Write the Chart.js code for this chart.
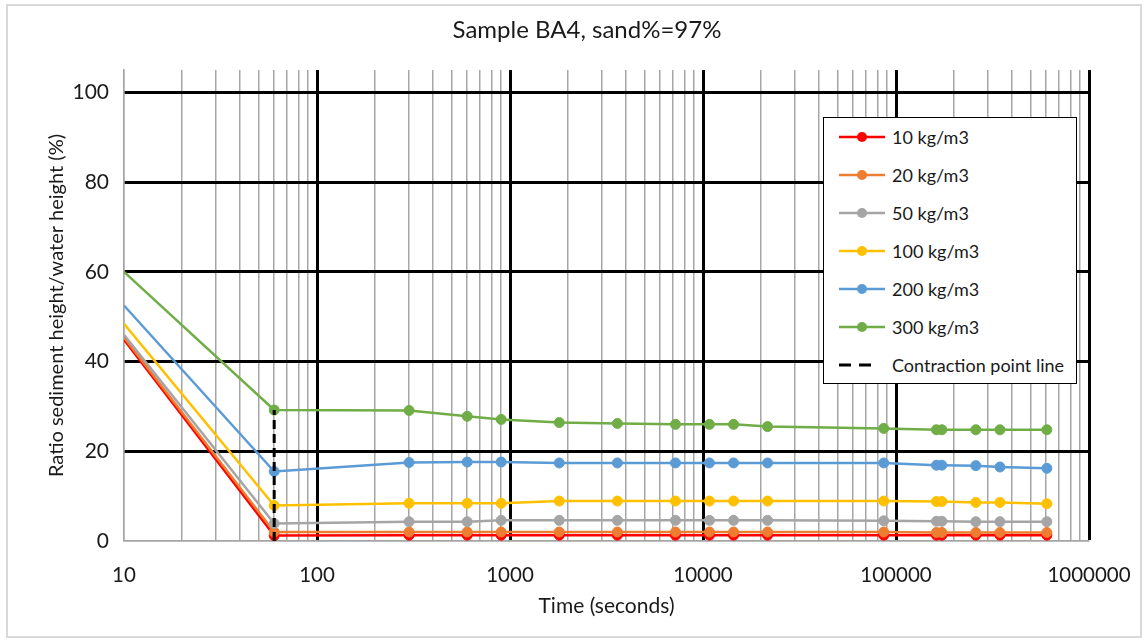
<!DOCTYPE html>
<html>
<head>
<meta charset="utf-8">
<script src="https://cdn.jsdelivr.net/npm/chart.js@4"></script>
<style>
  html, body { margin: 0; padding: 0; background: #fff; }
  #wrap { position: relative; width: 1147px; height: 641px; }
  #frame { position: absolute; left: 6px; top: 4px; width: 1136px; height: 634px; border: 2px solid #d9d9d9; box-sizing: border-box; pointer-events: none; }
  #legend { position: absolute; left: 823px; top: 117px; width: 254px; height: 267px; border: 1px solid #000; background: #fff; box-sizing: border-box; font-family: Lato, sans-serif; font-size: 18px; color: #1a1a1a; }
  .row { height: 38px; display: flex; align-items: center; }
  .row svg { margin-left: 15px; margin-right: 7px; }
</style>
</head>
<body>
<div id="wrap">
  <canvas id="chart" width="1147" height="641"></canvas>
  <div id="frame"></div>
  <div id="legend"></div>
</div>
<script>
// time (s) of every reading
const times = [10, 60, 300, 600, 900, 1800, 3600, 7200, 10800, 14400, 21600, 86400, 162000, 172800, 259200, 345600, 604800]

// ratio sediment height / water height (%)
const c10 = [44.9, 1.2, 1.3, 1.3, 1.3, 1.3, 1.3, 1.3, 1.3, 1.3, 1.3, 1.3, 1.3, 1.3, 1.3, 1.3, 1.3]
const c20 = [45.4, 2.0, 2.0, 2.0, 2.0, 2.0, 2.0, 2.0, 2.0, 2.0, 2.0, 2.0, 1.9, 1.9, 1.9, 1.9, 1.9]
const c50 = [46.0, 3.9, 4.3, 4.3, 4.6, 4.6, 4.6, 4.6, 4.6, 4.6, 4.6, 4.5, 4.4, 4.4, 4.3, 4.3, 4.3]
const c100 = [48.4, 7.9, 8.4, 8.4, 8.4, 8.9, 8.9, 8.9, 8.9, 8.9, 8.9, 8.9, 8.8, 8.8, 8.6, 8.6, 8.3]
const c200 = [52.5, 15.5, 17.5, 17.6, 17.6, 17.4, 17.4, 17.4, 17.4, 17.4, 17.4, 17.4, 16.9, 16.9, 16.8, 16.5, 16.2]
const c300 = [60.0, 29.2, 29.1, 27.8, 27.1, 26.4, 26.2, 26.0, 26.0, 26.0, 25.5, 25.1, 24.8, 24.8, 24.8, 24.8, 24.8]

const contractionTime = [60, 60]
const contractionRatio = [0, 29.2]

const seriesLabels = ["10 kg/m3", "20 kg/m3", "50 kg/m3", "100 kg/m3", "200 kg/m3", "300 kg/m3"]
const seriesColors = ["#FF0000", "#ED7D31", "#A5A5A5", "#FFC000", "#5B9BD5", "#70AD47"]
const seriesValues = [c10, c20, c50, c100, c200, c300]

const xTickLabels = [10, 100, 1000, 10000, 100000, 1000000]
const yTicks = [0, 20, 40, 60, 80, 100]

const textColor = "#1a1a1a"
const minorGrey = "#a6a6a6"

Chart.defaults.font.family = "Lato"
Chart.defaults.color = textColor

function toPoints(xs, ys) {
    return xs.map((x, i) => ({ x: x, y: ys[i] }))
}

let datasets = seriesValues.map((vals, k) => ({
    label: seriesLabels[k],
    data: toPoints(times, vals),
    borderColor: seriesColors[k],
    backgroundColor: seriesColors[k],
    borderWidth: 2.5,
    pointRadius: times.map((t, i) => i === 0 ? 0 : 5),
    pointBorderWidth: 1,
    tension: 0,
    order: 6 - k
}))

datasets.push({
    label: "Contraction point line",
    data: toPoints(contractionTime, contractionRatio),
    borderColor: "#000",
    backgroundColor: "#000",
    borderWidth: 3,
    borderDash: [9, 5],
    pointRadius: 0,
    order: 0
})

let chart = new Chart(document.getElementById("chart"), {
    type: "line",
    data: { datasets: datasets },
    options: {
        responsive: false,
        animation: false,
        // left padding pushes the title to where the reference has it
        layout: { padding: { left: 27, right: 0, top: 0, bottom: 0 } },
        plugins: {
            legend: { display: false },
            tooltip: { enabled: false },
            title: {
                display: true,
                text: "Sample BA4, sand%=97%",
                color: textColor,
                font: { size: 24, weight: "normal" },
                padding: { top: 15.6, bottom: 25.6 }
            }
        },
        scales: {
            x: {
                type: "logarithmic",
                min: 10,
                max: 1000000,
                afterBuildTicks: scale => {
                    let ticks = []
                    for (let d = 0; d < xTickLabels.length - 1; d++) {
                        for (let m = 1; m < 10; m++) ticks.push({ value: m * xTickLabels[d] })
                    }
                    ticks.push({ value: xTickLabels[xTickLabels.length - 1] })
                    scale.ticks = ticks
                },
                afterFit: scale => {
                    scale.height = 100
                    scale.paddingRight = 58
                },
                ticks: {
                    autoSkip: false,
                    maxRotation: 0,
                    padding: 21.7,
                    font: { size: 20.5 },
                    callback: v => xTickLabels.includes(v) ? String(v) : ""
                },
                grid: {
                    drawTicks: false,
                    color: ctx => (xTickLabels.includes(ctx.tick.value) && ctx.tick.value !== 10) ? "#000" : minorGrey,
                    lineWidth: ctx => (xTickLabels.includes(ctx.tick.value) && ctx.tick.value !== 10) ? 3 : 1.5
                },
                border: { color: minorGrey, width: 1.5 },
                title: {
                    display: true,
                    text: "Time (seconds)",
                    font: { size: 21 },
                    padding: { top: 0, bottom: 22.4 }
                }
            },
            y: {
                min: 0,
                max: 105,
                afterBuildTicks: scale => { scale.ticks = yTicks.map(v => ({ value: v })) },
                afterFit: scale => { scale.width = 97 },
                ticks: { padding: 15, font: { size: 21 } },
                grid: {
                    drawTicks: false,
                    color: ctx => ctx.tick.value === 0 ? minorGrey : "#000",
                    lineWidth: ctx => ctx.tick.value === 0 ? 1.5 : 3
                },
                border: { color: minorGrey, width: 1.5 },
                title: {
                    display: true,
                    text: "Ratio sediment height/water height (%)",
                    font: { size: 20 },
                    padding: { top: 18, bottom: 0 }
                }
            }
        }
    }
});

// legend box drawn from the chart's own datasets
let legendBox = document.getElementById("legend")
chart.data.datasets.forEach(ds => {
    let row = document.createElement("div")
    row.className = "row"
    let svg
    if (ds.borderDash) {
        svg = '<svg width="46" height="14"><line x1="0" y1="7" x2="40" y2="7" stroke="' + ds.borderColor +
            '" stroke-width="3" stroke-dasharray="12,8"/></svg>'
    } else {
        svg = '<svg width="46" height="14"><line x1="0" y1="7" x2="46" y2="7" stroke="' + ds.borderColor +
            '" stroke-width="2.5"/><circle cx="23" cy="7" r="5" fill="' + ds.backgroundColor + '"/></svg>'
    }
    row.innerHTML = svg + "<span>" + ds.label + "</span>"
    legendBox.appendChild(row)
})
</script>
</body>
</html>
